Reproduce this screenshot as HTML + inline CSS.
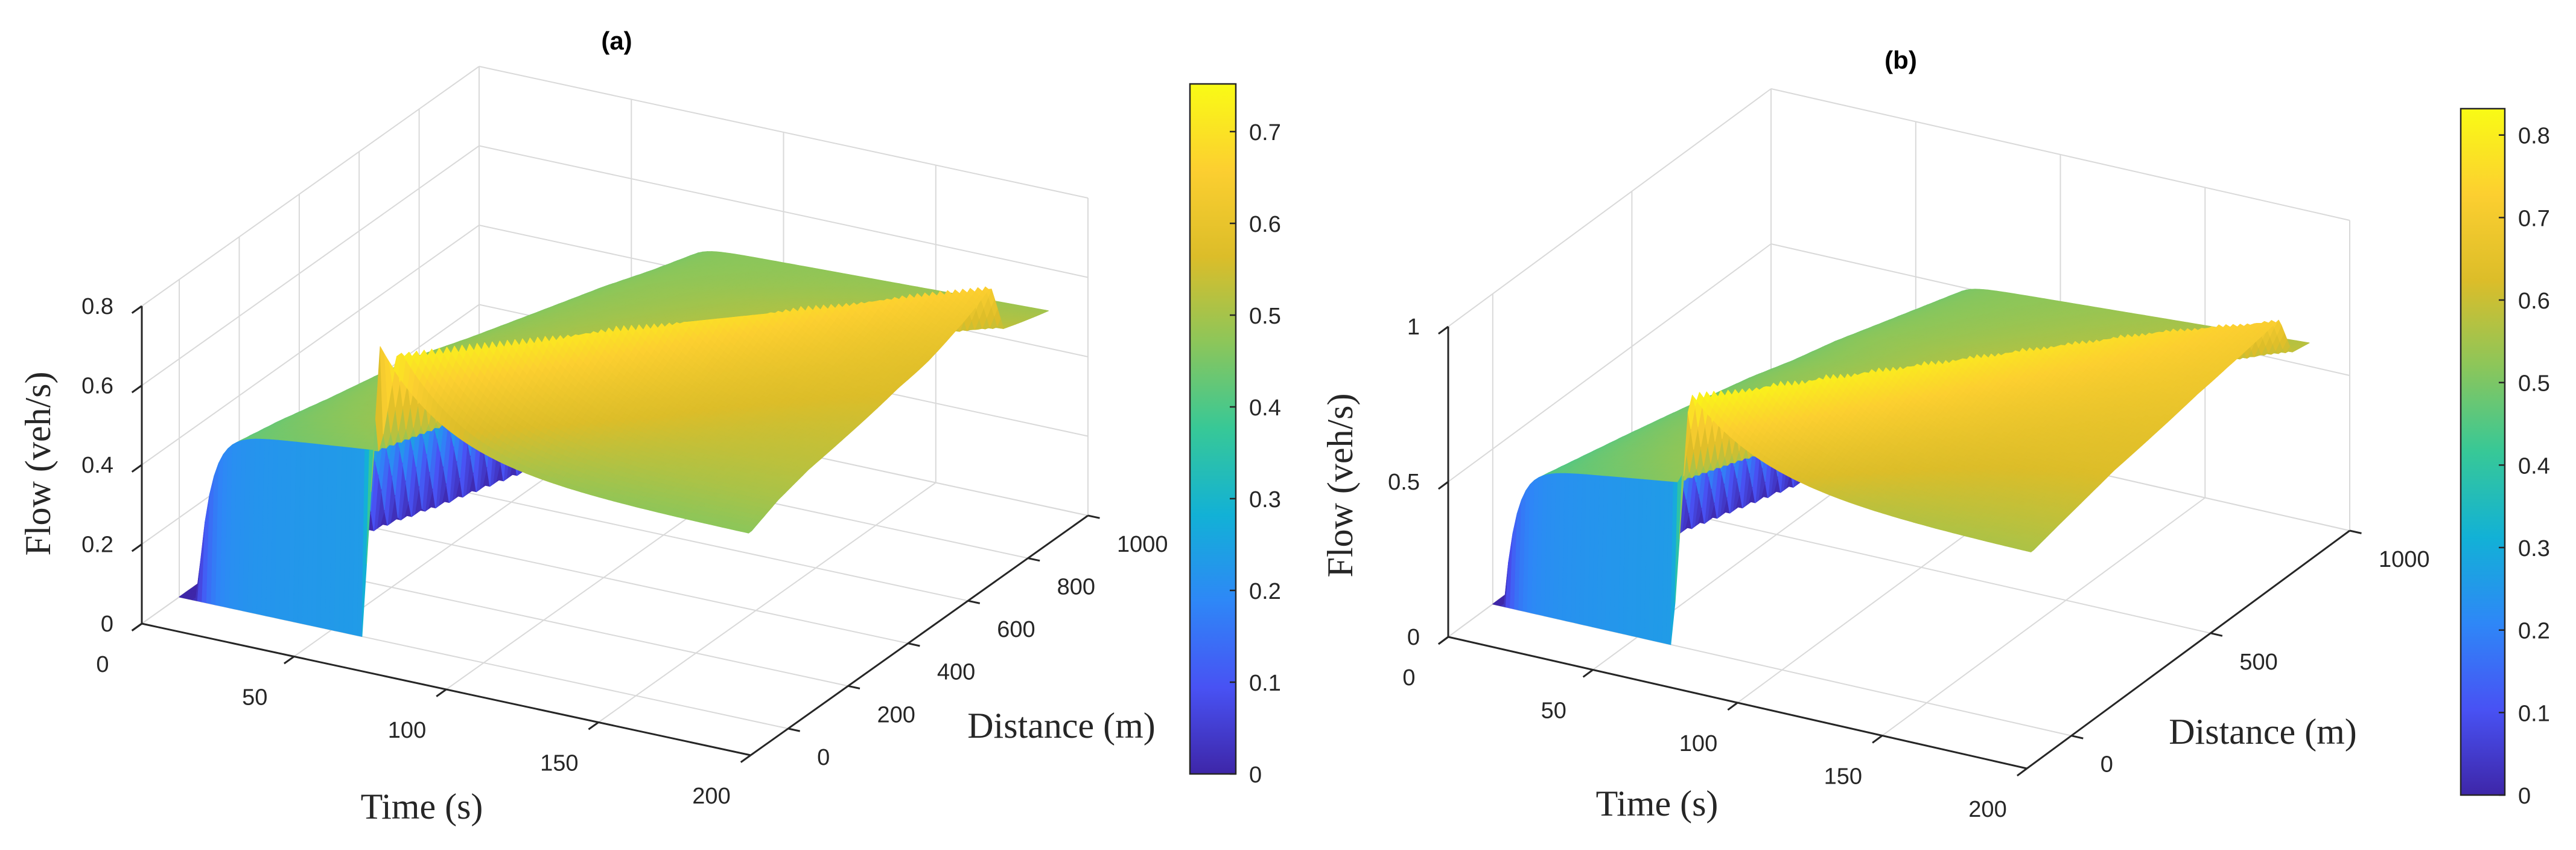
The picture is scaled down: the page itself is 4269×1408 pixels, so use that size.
<!DOCTYPE html>
<html><head><meta charset="utf-8"><title>Flow surfaces</title>
<style>
html,body{margin:0;padding:0;background:#fff;}
svg{display:block;}
.tk{font-family:"Liberation Sans",Arial,sans-serif;font-size:38px;fill:#262626;}
.ttl{font-family:"Liberation Serif","Times New Roman",serif;font-size:60px;fill:#262626;}
.hd{font-family:"Liberation Sans",Arial,sans-serif;font-size:42px;font-weight:bold;fill:#000;}
</style></head>
<body>
<svg id="fig" xmlns="http://www.w3.org/2000/svg" width="4269" height="1408" viewBox="0 0 4269 1408">
<defs>
<linearGradient id="parula" x1="0" y1="1" x2="0" y2="0">
<stop offset="0" stop-color="rgb(62,38,168)"/>
<stop offset="0.125" stop-color="rgb(72,82,244)"/>
<stop offset="0.25" stop-color="rgb(46,135,247)"/>
<stop offset="0.375" stop-color="rgb(18,177,214)"/>
<stop offset="0.5" stop-color="rgb(55,200,151)"/>
<stop offset="0.625" stop-color="rgb(140,198,90)"/>
<stop offset="0.75" stop-color="rgb(220,189,41)"/>
<stop offset="0.875" stop-color="rgb(252,207,48)"/>
<stop offset="1" stop-color="rgb(249,251,21)"/>
</linearGradient>
</defs>
<rect x="0" y="0" width="4269" height="1408" fill="#fff"/>
<text class="hd" x="1022" y="82" text-anchor="middle">(a)</text>
<text class="hd" x="3150" y="114" text-anchor="middle">(b)</text>
<text class="ttl" x="699" y="1356" text-anchor="middle">Time (s)</text>
<text class="ttl" x="1759" y="1222" text-anchor="middle">Distance (m)</text>
<text class="ttl" x="0" y="0" text-anchor="middle" transform="translate(83,768) rotate(-90)">Flow (veh/s)</text>
<text class="ttl" x="2746" y="1351" text-anchor="middle">Time (s)</text>
<text class="ttl" x="3750" y="1232" text-anchor="middle">Distance (m)</text>
<text class="ttl" x="0" y="0" text-anchor="middle" transform="translate(2241,804) rotate(-90)">Flow (veh/s)</text>
<g id="panelA"></g>
<g id="panelB"></g>
</svg>
<script>
// ---------- Panel (a) data (estimated per distance row) ----------
const aDistances = [0, 10, 100, 200, 300, 400, 500, 600, 700, 800, 900, 1000];
const aWave1Time = [60, 5, 10, 16, 21, 26, 32, 37, 42, 47, 53, 58];
const aFlowAfterWave1 = [0, 0.42, 0.43, 0.44, 0.45, 0.46, 0.46, 0.46, 0.46, 0.46, 0.46, 0.46];
const aFlowBeforeWave2 = [0, 0.47, 0.51, 0.54, 0.56, 0.57, 0.57, 0.56, 0.55, 0.54, 0.52, 0.50];
const aWave2Time = [60, 65, 79, 94, 108, 122, 137, 151, 165, 180, 194, 208];
const aWave2Peak = [0.74, 0.74, 0.73, 0.72, 0.71, 0.70, 0.69, 0.68, 0.67, 0.66, 0.65, 0.64];
const aFlowFinal = [0.47, 0.47, 0.50, 0.52, 0.53, 0.54, 0.55, 0.55, 0.56, 0.56, 0.56, 0.56];
const aTimeTicks = [0, 50, 100, 150, 200];
const aDistTicks = [0, 200, 400, 600, 800, 1000];
const aFlowTicks = [0, 0.2, 0.4, 0.6, 0.8];
const aFlowTickLabels = ["0", "0.2", "0.4", "0.6", "0.8"];
const aColorTicks = [0, 0.1, 0.2, 0.3, 0.4, 0.5, 0.6, 0.7];
const aColorMax = 0.752;

// ---------- Panel (b) data ----------
const bDistances = [0, 10, 100, 200, 300, 400, 500, 600, 700, 800, 900, 1000];
const bWave1Time = [62, 3, 8, 13, 18, 23, 28, 33, 38, 43, 48, 53];
const bFlowAfterWave1 = [0, 0.44, 0.45, 0.46, 0.47, 0.48, 0.49, 0.49, 0.50, 0.50, 0.50, 0.50];
const bFlowBeforeWave2 = [0, 0.52, 0.56, 0.59, 0.61, 0.62, 0.62, 0.62, 0.61, 0.60, 0.59, 0.58];
const bWave2Time = [62, 64, 77, 90, 103, 116, 129, 142, 155, 168, 181, 194];
const bWave2Peak = [0.83, 0.83, 0.82, 0.81, 0.80, 0.79, 0.78, 0.77, 0.76, 0.74, 0.72, 0.70];
const bFlowFinal = [0.56, 0.56, 0.58, 0.60, 0.62, 0.63, 0.64, 0.65, 0.65, 0.65, 0.65, 0.65];
const bTimeTicks = [0, 50, 100, 150, 200];
const bDistTicks = [0, 500, 1000];
const bFlowTicks = [0, 0.5, 1];
const bFlowTickLabels = ["0", "0.5", "1"];
const bColorTicks = [0, 0.1, 0.2, 0.3, 0.4, 0.5, 0.6, 0.7, 0.8];
const bColorMax = 0.832;

const NS = "http://www.w3.org/2000/svg";
const PARULA = [[0,62,38,168],[0.125,72,82,244],[0.25,46,135,247],[0.375,18,177,214],[0.5,55,200,151],[0.625,140,198,90],[0.75,220,189,41],[0.875,252,207,48],[1,249,251,21]];
function parula(f){
  f = Math.max(0, Math.min(1, f));
  for (let i = 1; i < PARULA.length; i++) {
    if (f <= PARULA[i][0]) {
      const a = PARULA[i-1], b = PARULA[i], u = (f - a[0]) / (b[0] - a[0]);
      return "rgb(" + Math.round(a[1]+(b[1]-a[1])*u) + "," + Math.round(a[2]+(b[2]-a[2])*u) + "," + Math.round(a[3]+(b[3]-a[3])*u) + ")";
    }
  }
  return "rgb(249,251,21)";
}
function mk(tag, attrs, parent){
  const e = document.createElementNS(NS, tag);
  for (const k in attrs) e.setAttribute(k, attrs[k]);
  parent.appendChild(e);
  return e;
}

function buildPanel(cfg){
  const g = document.getElementById(cfg.gid);
  const P = (t, d, z) => [cfg.ox + t*cfg.tx + (d - cfg.dmin)*cfg.dx, cfg.oy + t*cfg.ty + (d - cfg.dmin)*cfg.dy - z*cfg.zs];
  const line = (p, q, color, w, name) => {
    const l = mk("line", {x1:p[0].toFixed(1), y1:p[1].toFixed(1), x2:q[0].toFixed(1), y2:q[1].toFixed(1), stroke:color, "stroke-width":w}, g);
    
    
    return l;
  };
  const GRID = "#d9d9d9";
  const zTop = cfg.flowTicks[cfg.flowTicks.length-1];
  cfg.timeTicks.forEach(t => line(P(t,cfg.dmin,0), P(t,cfg.dmax,0), GRID, 2, 'floor-gridline-time'));
  cfg.distTicks.forEach(d => line(P(0,d,0), P(cfg.tmax,d,0), GRID, 2, 'floor-gridline-distance'));
  cfg.timeTicks.forEach(t => line(P(t,cfg.dmax,0), P(t,cfg.dmax,zTop), GRID, 2, 'back-wall-gridline-time'));
  cfg.flowTicks.forEach(z => line(P(0,cfg.dmax,z), P(cfg.tmax,cfg.dmax,z), GRID, 2, 'back-wall-gridline-flow'));
  cfg.distTicks.forEach(d => line(P(0,d,0), P(0,d,zTop), GRID, 2, 'side-wall-gridline-distance'));
  cfg.flowTicks.forEach(z => line(P(0,cfg.dmin,z), P(0,cfg.dmax,z), GRID, 2, 'side-wall-gridline-flow'));

  const D = cfg.dist;
  const rows = [];
  for (let i = 0; i < D.length - 1; i++) {
    const n = Math.max(1, Math.round((D[i+1] - D[i]) / 10));
    for (let s = 0; s < n; s++) {
      const u = s / n;
      const L = (arr) => arr[i] + (arr[i+1] - arr[i]) * u;
      if (i === 0) {
        rows.push({d:D[0], w1:cfg.w1[0], w2:cfg.w2[0], b0:cfg.b0[0], b1:cfg.b1[0], pk:cfg.pk[0], fin:cfg.fin[0]});
      } else {
        rows.push({d:L(D), w1:L(cfg.w1), w2:L(cfg.w2), b0:L(cfg.b0), b1:L(cfg.b1), pk:L(cfg.pk), fin:L(cfg.fin)});
      }
    }
  }
  const last = D.length - 1;
  rows.push({d:D[last], w1:cfg.w1[last], w2:cfg.w2[last], b0:cfg.b0[last], b1:cfg.b1[last], pk:cfg.pk[last], fin:cfg.fin[last]});

  const RAMP = 6;
  function rowFlow(r, t){
    if (t < r.w1) return 0;
    if (t < r.w2) {
      const u = (t - r.w1) / Math.max(1, r.w2 - r.w1);
      const rise = 1 - Math.exp(-(t - r.w1) / 4);
      return rise * (r.b0 + (r.b1 - r.b0) * u);
    }
    const before = (r.w1 < r.w2) ? r.b1 : 0;
    if (t < r.w2 + RAMP) return before + (r.pk - before) * (t - r.w2) / RAMP;
    return r.fin + (r.pk - r.fin) * Math.exp(-(t - r.w2 - RAMP) / cfg.tau);
  }
  const quads = [];
  const step = 1.5;
  for (let i = 0; i < rows.length - 1; i++) {
    const ra = rows[i], rb = rows[i+1];
    for (let t = 0; t < cfg.tEnd; t += step) {
      const t2 = Math.min(t + step, cfg.tEnd);
      const z00 = rowFlow(ra, t), z10 = rowFlow(ra, t2), z11 = rowFlow(rb, t2), z01 = rowFlow(rb, t);
      const pts = [P(t, ra.d, z00), P(t2, ra.d, z10), P(t2, rb.d, z11), P(t, rb.d, z01)];
      const key = cfg.ty*(t + t2)/2 + cfg.dy*((ra.d + rb.d)/2 - cfg.dmin);
      quads.push({pts, key, z:(z00+z10+z11+z01)/4});
    }
  }
  quads.sort((a, b) => a.key - b.key);
  const sg = mk("g", {}, g);
  
  
  quads.forEach(q => {
    const c = parula(q.z / cfg.cmax);
    const pg = mk("polygon", {points: q.pts.map(p => p[0].toFixed(1)+","+p[1].toFixed(1)).join(" "), fill:c, stroke:c, "stroke-width":1.2, "stroke-linejoin":"round"}, sg);
    
    
  });

  const AX = "#262626";
  line(P(0,cfg.dmin,0), P(0,cfg.dmin,zTop), AX, 3, 'z-axis-line');
  line(P(0,cfg.dmin,0), P(cfg.tmax,cfg.dmin,0), AX, 3, 'time-axis-line');
  line(P(cfg.tmax,cfg.dmin,0), P(cfg.tmax,cfg.dmax,0), AX, 3, 'distance-axis-line');
  const dl = Math.hypot(cfg.dx, cfg.dy), tl = Math.hypot(cfg.tx, cfg.ty);
  const dUx = cfg.dx/dl, dUy = cfg.dy/dl, tUx = cfg.tx/tl, tUy = cfg.ty/tl;
  const TL = 20;
  cfg.flowTicks.forEach((z, k) => {
    const p = P(0, cfg.dmin, z);
    line(p, [p[0]-dUx*TL, p[1]-dUy*TL], AX, 3, 'z-tick');
    const tx = mk("text", {x:(p[0]-47).toFixed(1), y:(p[1]+13).toFixed(1), "text-anchor":"end", class:"tk"}, g);
    tx.textContent = cfg.flowLabels[k];
    
    
  });
  cfg.timeTicks.forEach(t => {
    const p = P(t, cfg.dmin, 0);
    line(p, [p[0]-dUx*TL, p[1]-dUy*TL], AX, 3, 'time-tick');
    const tx = mk("text", {x:(p[0]-65).toFixed(1), y:(p[1]+80).toFixed(1), "text-anchor":"middle", class:"tk"}, g);
    tx.textContent = String(t);
    
    
  });
  cfg.distTicks.forEach(d => {
    const p = P(cfg.tmax, d, 0);
    line(p, [p[0]+tUx*TL, p[1]+tUy*TL], AX, 3, 'distance-tick');
    const tx = mk("text", {x:(p[0]+48).toFixed(1), y:(p[1]+60).toFixed(1), "text-anchor":"start", class:"tk"}, g);
    tx.textContent = String(d);
    
    
  });

  const cb = cfg.cb;
  const r = mk("rect", {x:cb.x, y:cb.y, width:cb.w, height:cb.h, fill:"url(#parula)", stroke:AX, "stroke-width":2.5}, g);
  
  
  cfg.colorTicks.forEach(v => {
    const y = cb.y + cb.h - v / cfg.cmax * cb.h;
    line([cb.x + cb.w, y], [cb.x + cb.w - 10, y], AX, 2.5, 'colorbar-tick');
    const tx = mk("text", {x:cb.x + cb.w + 22, y:(y + 14).toFixed(1), "text-anchor":"start", class:"tk"}, g);
    tx.textContent = String(v);
    
    
  });
}

buildPanel({gid:"panelA", ox:235, oy:1033, tx:1009/200, ty:218/200, dmin:-125, dmax:1000, dx:559/1125, dy:-397/1125, zs:657.5,
  tmax:200, tEnd:187, tau:22, cmax:aColorMax,
  dist:aDistances, w1:aWave1Time, b0:aFlowAfterWave1, b1:aFlowBeforeWave2, w2:aWave2Time, pk:aWave2Peak, fin:aFlowFinal,
  timeTicks:aTimeTicks, distTicks:aDistTicks, flowTicks:aFlowTicks, flowLabels:aFlowTickLabels, colorTicks:aColorTicks,
  cb:{x:1972, y:139, w:76, h:1143}});
buildPanel({gid:"panelB", ox:2400, oy:1055, tx:959/200, ty:218/200, dmin:-160, dmax:1000, dx:535/1160, dy:-394/1160, zs:514,
  tmax:200, tEnd:186, tau:25, cmax:bColorMax,
  dist:bDistances, w1:bWave1Time, b0:bFlowAfterWave1, b1:bFlowBeforeWave2, w2:bWave2Time, pk:bWave2Peak, fin:bFlowFinal,
  timeTicks:bTimeTicks, distTicks:bDistTicks, flowTicks:bFlowTicks, flowLabels:bFlowTickLabels, colorTicks:bColorTicks,
  cb:{x:4078, y:180, w:73, h:1137}});
</script>
</body></html>
